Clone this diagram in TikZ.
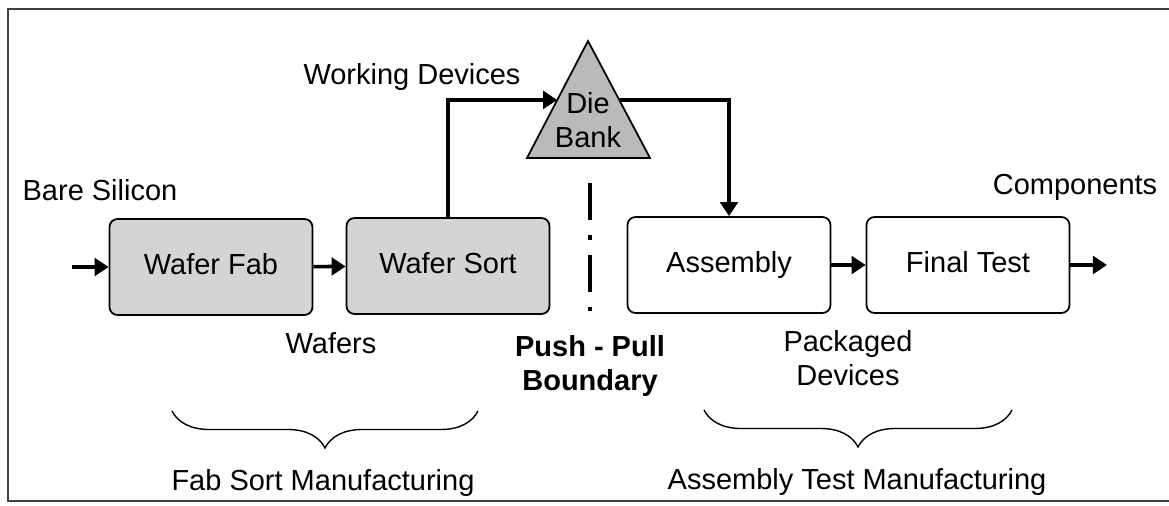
\documentclass[tikz,border=0pt]{standalone}
\usepackage{fontspec}
\setmainfont{Liberation Sans}
\usetikzlibrary{arrows.meta,calc,decorations.pathreplacing}

\tikzset{
  stage/.style={draw=black, line width=1pt, rounded corners=0.16cm,
    minimum width=4.06cm, minimum height=1.92cm, inner sep=0pt,
    text height=0.92em, text depth=0.04em},
  pushed/.style={stage, fill=black!17},
  pulled/.style={stage, fill=white},
  flow/.style={line width=2pt, -{Triangle[length=8pt,width=10pt]}},
  lbl/.style={align=center, inner sep=0pt},
  span/.style={line width=0.8pt, decorate,
    decoration={brace, mirror, amplitude=0.74cm}},
}

\begin{document}
\begin{tikzpicture}[x=0.02cm, y=-0.02cm, font=\fontsize{16.5}{19}\selectfont]
	%%%%% START %%%%%
	\useasboundingbox (0,0) rectangle (1169,506);
	\draw[line width=1.1pt, black!75] (1169,9) -- (8,9) -- (8,501) -- (1169,501);
	
	% process stages
	\node[pushed] (fab) at (211,267) {Wafer Fab};
	\node[pushed] (sort) at (448,266) {Wafer Sort};
	\node[pulled] (assembly) at (729,265) {Assembly};
	\node[pulled] (final) at (968,265) {Final Test};
	
	% die bank
	\draw[line width=1pt, fill=black!27] (588,41) coordinate (apex)
		-- (527,158) coordinate (bankl) -- (650,158) coordinate (bankr) -- cycle;
	\node[lbl] (bank) at (588,120) {Die\\Bank};
	\coordinate (bankin) at ($(apex)!0.504!(bankl)$);
	\coordinate (bankout) at ($(apex)!0.504!(bankr)$);
	
	\coordinate (feed) at (72,267);
	\coordinate (ship) at (1107,265);
	
	% material flow
	\draw[flow] (feed) -- (fab);
	\draw[flow] (fab) -- (sort);
	\draw[flow] (sort.north) |- (bankin);
	\draw[flow] (bankout) -| (assembly.north);
	\draw[flow] (assembly) -- (final);
	\draw[flow] (final) -- (ship);
	
	% push - pull boundary
	\draw[line width=1.8pt, dash pattern=on 21pt off 8.5pt on 2.8pt off 8.5pt] (590,183) -- (590,312);
	\node[lbl, font=\fontsize{16.5}{19}\selectfont\bfseries] (boundary) at (590,366) {Push - Pull\\Boundary};
	
	% labels
	\node[lbl] (silicon) at (100,190) {Bare Silicon};
	\node[lbl] (working) at (412,77) {Working Devices};
	\node[lbl] (components) at (1075,187) {Components};
	\node[lbl] (wafers) at (331,343) {Wafers};
	\node[lbl] (packaged) at (848,358) {Packaged\\Devices};
	
	% manufacturing groups
	\draw[span] (172,411) -- (478,411);
	\draw[span] (704,410) -- (1012,410);
	\node[lbl] (fabsort) at (323,483) {Fab Sort Manufacturing};
	\node[lbl] (assytest) at (857,482) {Assembly Test Manufacturing};
	%%%%% END %%%%%
\end{tikzpicture}
\end{document}
